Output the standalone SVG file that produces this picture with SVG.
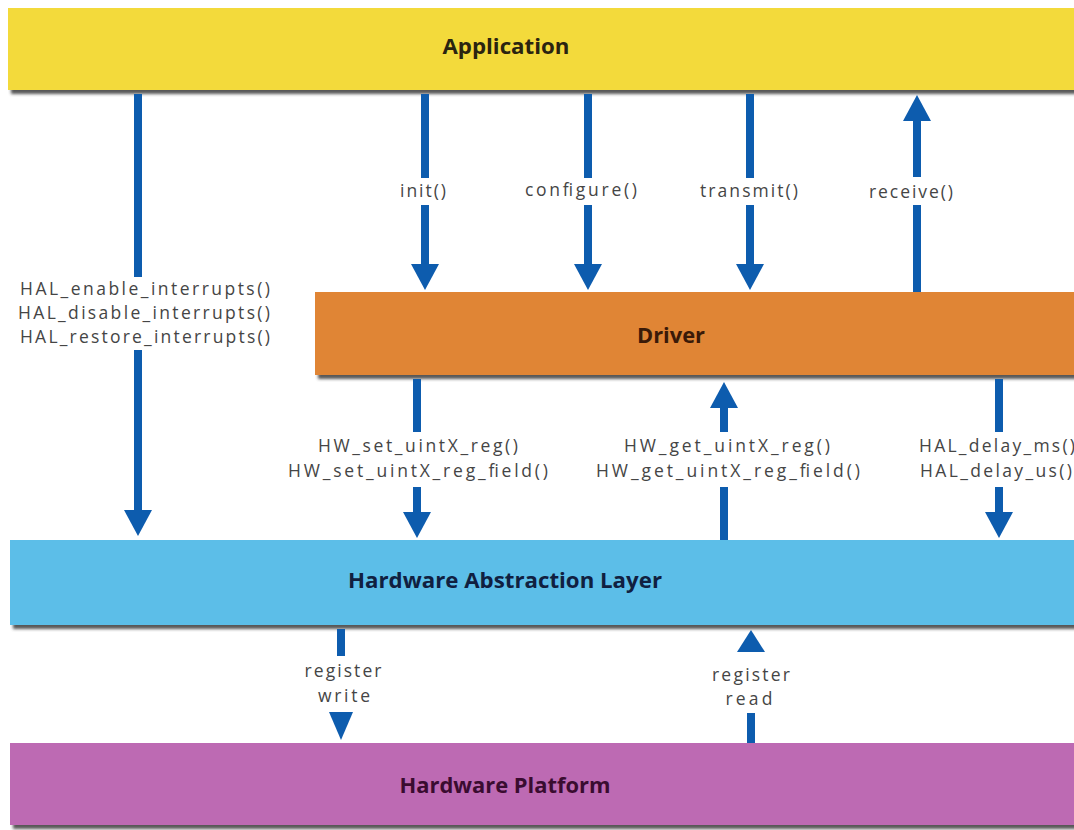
<svg xmlns="http://www.w3.org/2000/svg" width="1074" height="830" viewBox="0 0 1074 830">
<style>
.lbl{font-family:"Open Sans","Liberation Sans",sans-serif;font-size:17.5px;fill:#454545;text-anchor:middle;dominant-baseline:central}
.ttl{font-family:"Open Sans","Liberation Sans",sans-serif;font-size:21px;font-weight:bold;text-anchor:middle;dominant-baseline:central}
.ln{stroke:#0d5cae;stroke-width:8;fill:none}
.hd{fill:#0d5cae}
</style>
<defs>
<filter id="sh" x="-5%" y="-20%" width="110%" height="150%">
<feDropShadow dx="3" dy="4" stdDeviation="1.5" flood-color="#444" flood-opacity="0.9"/>
</filter>
</defs>
<rect width="1074" height="830" fill="#fff"/>
<g id="application">
<rect x="8" y="8" width="1070" height="82" fill="#f3da3a" filter="url(#sh)"/>
<text class="ttl" x="506" y="46" fill="#2a2410" textLength="127" lengthAdjust="spacingAndGlyphs">Application</text>
</g>
<g id="driver">
<rect x="315" y="292" width="763" height="83" fill="#e08535" filter="url(#sh)"/>
<text class="ttl" x="671" y="335" fill="#3a1a08" textLength="68" lengthAdjust="spacingAndGlyphs">Driver</text>
</g>
<g id="hal">
<rect x="10" y="540" width="1068" height="85" fill="#5cbee8" filter="url(#sh)"/>
<text class="ttl" x="505" y="580" fill="#102040" textLength="314" lengthAdjust="spacingAndGlyphs">Hardware Abstraction Layer</text>
</g>
<g id="platform">
<rect x="10" y="743" width="1068" height="82" fill="#bd6bb3" filter="url(#sh)"/>
<text class="ttl" x="505" y="785" fill="#3a0c30" textLength="211" lengthAdjust="spacingAndGlyphs">Hardware Platform</text>
</g>
<g id="connectors">
<path class="ln" d="M138,94 V277 M138,350 V512"/>
<polygon class="hd" points="124,510 152,510 138,536"/>
<path class="ln" d="M425,94 V178 M425,205 V266"/>
<polygon class="hd" points="411,264 439,264 425,290"/>
<path class="ln" d="M588,94 V178 M588,205 V266"/>
<polygon class="hd" points="574,264 602,264 588,290"/>
<path class="ln" d="M750,94 V178 M750,205 V266"/>
<polygon class="hd" points="736,264 764,264 750,290"/>
<path class="ln" d="M917,292 V205 M917,177 V118"/>
<polygon class="hd" points="903,121 931,121 917,95"/>
<path class="ln" d="M417,379 V432 M417,487 V514"/>
<polygon class="hd" points="403,512 431,512 417,538"/>
<path class="ln" d="M724,540 V487 M724,432 V405"/>
<polygon class="hd" points="710,408 738,408 724,382"/>
<path class="ln" d="M999,379 V432 M999,487 V514"/>
<polygon class="hd" points="985,512 1013,512 999,538"/>
<path class="ln" d="M341,629 V656"/>
<polygon class="hd" points="329,712 353,712 341,740"/>
<path class="ln" d="M751,743 V713"/>
<polygon class="hd" points="737,652 765,652 751,630"/>
</g>
<g id="labels">
<text class="lbl" x="145" y="288" textLength="250" lengthAdjust="spacing">HAL_enable_interrupts()</text>
<text class="lbl" x="144" y="312" textLength="252" lengthAdjust="spacing">HAL_disable_interrupts()</text>
<text class="lbl" x="145" y="336" textLength="250" lengthAdjust="spacing">HAL_restore_interrupts()</text>
<text class="lbl" x="423" y="190" textLength="46" lengthAdjust="spacing">init()</text>
<text class="lbl" x="581" y="189" textLength="112" lengthAdjust="spacing">configure()</text>
<text class="lbl" x="749" y="190" textLength="98" lengthAdjust="spacing">transmit()</text>
<text class="lbl" x="911" y="191" textLength="84" lengthAdjust="spacing">receive()</text>
<text class="lbl" x="418" y="445" textLength="200" lengthAdjust="spacing">HW_set_uintX_reg()</text>
<text class="lbl" x="418" y="470" textLength="260" lengthAdjust="spacing">HW_set_uintX_reg_field()</text>
<text class="lbl" x="727" y="445" textLength="206" lengthAdjust="spacing">HW_get_uintX_reg()</text>
<text class="lbl" x="728" y="470" textLength="264" lengthAdjust="spacing">HW_get_uintX_reg_field()</text>
<text class="lbl" x="997" y="445" textLength="156" lengthAdjust="spacing">HAL_delay_ms()</text>
<text class="lbl" x="996" y="470" textLength="152" lengthAdjust="spacing">HAL_delay_us()</text>
<text class="lbl" x="343" y="670" textLength="77" lengthAdjust="spacing">register</text>
<text class="lbl" x="344" y="695" textLength="52" lengthAdjust="spacing">write</text>
<text class="lbl" x="751" y="674" textLength="78" lengthAdjust="spacing">register</text>
<text class="lbl" x="749" y="698" textLength="47" lengthAdjust="spacing">read</text>
</g>
</svg>
